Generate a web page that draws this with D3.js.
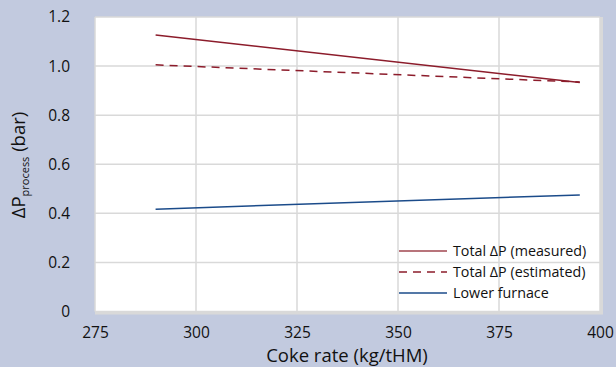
<!DOCTYPE html>
<html><head><meta charset="utf-8">
<script src="https://cdn.jsdelivr.net/npm/d3@7"></script>
<style>body{margin:0;background:#c2cadf;}svg{display:block;font-family:"Open Sans",sans-serif;}</style>
</head><body><svg id="c" width="616" height="367"></svg>
<script>
const cokeRate = [290, 395];
const measured = [1.127, 0.933];
const estimated = [1.005, 0.935];
const lowerFurnace = [0.417, 0.475];
const xTicks = [275, 300, 325, 350, 375, 400];
const yTicks = [0, 0.2, 0.4, 0.6, 0.8, 1.0, 1.2];
const seriesNames = ["Total ΔP (measured)", "Total ΔP (estimated)", "Lower furnace"];

const svg = d3.select("#c");
const L = 95, R = 600, T = 17, B = 311.5;
const x = d3.scaleLinear().domain([275, 400]).range([L, R]);
const y = d3.scaleLinear().domain([0, 1.2]).range([B, T]);

svg.append("rect").attr("width", 616).attr("height", 367).attr("fill", "#c2cadf");
svg.append("rect").attr("x", L).attr("y", T).attr("width", R - L + 3).attr("height", B - T + 3).attr("fill", "#d9d9d9");
svg.append("rect").attr("x", L).attr("y", T).attr("width", R - L).attr("height", B - T).attr("fill", "#fff");

const g = svg.append("g");
g.selectAll(".vg").data(xTicks).join("line").attr("x1", d => x(d)).attr("x2", d => x(d))
  .attr("y1", T).attr("y2", B).attr("stroke", "#d9d9d9").attr("stroke-width", 1.5);
g.selectAll(".hg").data(yTicks).join("line").attr("y1", d => y(d)).attr("y2", d => y(d))
  .attr("x1", L).attr("x2", R).attr("stroke", "#d9d9d9").attr("stroke-width", 1.5);

const fmt = d => d === 0 ? "0" : d3.format(".1f")(d);
svg.append("g").attr("transform", `translate(${L},0)`)
  .call(d3.axisLeft(y).tickValues(yTicks).tickFormat(fmt).tickSize(0).tickPadding(25))
  .call(a => a.select(".domain").remove())
  .selectAll("text").attr("font-size", 15.5).attr("fill", "#111").attr("font-family", "Open Sans");
svg.append("g").attr("transform", `translate(0,${B})`)
  .call(d3.axisBottom(x).tickValues(xTicks).tickSize(0).tickPadding(15))
  .call(a => a.select(".domain").remove())
  .selectAll("text").attr("font-size", 15.5).attr("fill", "#111").attr("font-family", "Open Sans");

const data = [
  {name: seriesNames[0], vals: measured, color: "#8c1c2b", dash: null, w: 1.5},
  {name: seriesNames[1], vals: estimated, color: "#8c1c2b", dash: "8,6", w: 1.5},
  {name: seriesNames[2], vals: lowerFurnace, color: "#1b4b8a", dash: null, w: 1.5}
];
const line = d3.line().x((d, i) => x(cokeRate[i])).y(d => y(d));
data.forEach(s => {
  svg.append("path").attr("d", line(s.vals)).attr("fill", "none").attr("stroke", s.color)
    .attr("stroke-width", s.w).attr("stroke-dasharray", s.dash);
});

const lg = svg.append("g");
data.forEach((s, i) => {
  const yy = 251 + i * 21;
  lg.append("line").attr("x1", 399).attr("x2", 447).attr("y1", yy).attr("y2", yy)
    .attr("stroke", i === 0 ? "#a0464f" : s.color).attr("stroke-width", 1.5).attr("stroke-dasharray", s.dash);
  lg.append("text").attr("x", 453).attr("y", yy).attr("dy", "0.35em").attr("font-size", 14.3)
    .attr("fill", "#111").text(s.name);
});

svg.append("text").attr("x", 347).attr("y", 362).attr("text-anchor", "middle")
  .attr("font-size", 18.5).attr("fill", "#111").text("Coke rate (kg/tHM)");

const yt = svg.append("text").attr("transform", "translate(25,165) rotate(-90)")
  .attr("text-anchor", "middle").attr("font-size", 18.5).attr("fill", "#111");
yt.append("tspan").text("ΔP");
yt.append("tspan").attr("font-size", 11).attr("dy", 4).text("process");
yt.append("tspan").attr("dy", -4).text(" (bar)");
</script></body></html>
